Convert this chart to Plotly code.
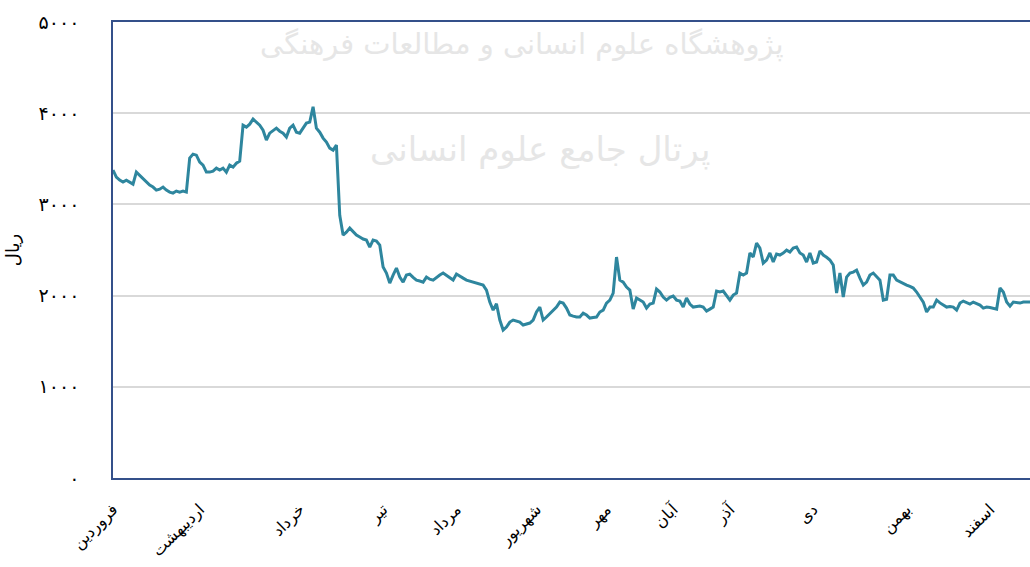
import plotly.graph_objects as go

# trading-day index and price (rial)
days = list(range(0, 276))
values = [
    3376, 3300, 3266, 3245, 3266, 3245, 3222, 3354, 3320, 3288,
    3245, 3211, 3190, 3157, 3167, 3190, 3157, 3135, 3124, 3146,
    3135, 3146, 3135, 3507, 3551, 3540, 3463, 3430, 3354, 3354,
    3365, 3398, 3376, 3398, 3354, 3430, 3409, 3452, 3475, 3869,
    3847, 3880, 3935, 3902, 3869, 3814, 3705, 3781, 3814, 3836,
    3803, 3781, 3738, 3836, 3869, 3792, 3781, 3836, 3891, 3902,
    4070, 3836, 3792, 3727, 3683, 3617, 3595, 3650, 2880, 2664,
    2696, 2740, 2696, 2664, 2642, 2620, 2609, 2532, 2609, 2598,
    2554, 2313, 2247, 2137, 2225, 2302, 2203, 2148, 2225, 2236,
    2200, 2170, 2160, 2148, 2203, 2180, 2170, 2203, 2225, 2247,
    2220, 2203, 2170, 2236, 2210, 2192, 2170, 2160, 2148, 2137,
    2125, 2115, 2061, 1929, 1841, 1910, 1732, 1622, 1655, 1710,
    1732, 1720, 1710, 1677, 1690, 1699, 1732, 1820, 1874, 1732,
    1765, 1800, 1841, 1874, 1929, 1918, 1863, 1787, 1775, 1765,
    1765, 1808, 1787, 1754, 1760, 1765, 1820, 1841, 1918, 1951,
    2028, 2423, 2170, 2148, 2093, 2061, 1852, 1973, 1951, 1929,
    1863, 1907, 1918, 2072, 2039, 1984, 1951, 1980, 1995, 1951,
    1940, 1874, 1973, 1907, 1874, 1880, 1885, 1874, 1830, 1852,
    1874, 2050, 2039, 2050, 2006, 1951, 2006, 2028, 2247, 2225,
    2247, 2467, 2423, 2576, 2521, 2357, 2390, 2467, 2368, 2456,
    2445, 2467, 2499, 2478, 2521, 2532, 2467, 2445, 2368, 2467,
    2357, 2368, 2489, 2445, 2420, 2390, 2335, 2028, 2247, 1984,
    2203, 2247, 2258, 2280, 2192, 2115, 2148, 2225, 2247, 2203,
    2170, 1951, 1960, 2225, 2225, 2170, 2150, 2137, 2115, 2100,
    2083, 2039, 1980, 1929, 1820, 1874, 1874, 1951, 1920, 1896,
    1874, 1880, 1874, 1841, 1918, 1940, 1920, 1907, 1929, 1910,
    1896, 1863, 1874, 1870, 1863, 1852, 2083, 2039, 1929, 1885,
    1929, 1920, 1918, 1929, 1925, 1929,
]

month_days = [0, 26, 56, 81, 103, 127, 148, 168, 185, 210, 238, 263]
month_names = ["فروردین", "اردیبهشت", "خرداد", "تیر", "مرداد", "شهریور",
               "مهر", "آبان", "آذر", "دی", "بهمن", "اسفند"]

y_ticks = [0, 1000, 2000, 3000, 4000, 5000]
y_labels = ["۰", "۱۰۰۰", "۲۰۰۰", "۳۰۰۰", "۴۰۰۰", "۵۰۰۰"]

watermark = ["پژوهشگاه علوم انسانی و مطالعات فرهنگی", "پرتال جامع علوم انسانی"]

fig = go.Figure()
fig.add_trace(go.Scatter(
    x=days, y=values, mode="lines",
    line=dict(color="#2E869E", width=3),
    hoverinfo="skip", showlegend=False,
))

axis_color = "#34508A"
font_fam = "DejaVu Sans"

fig.update_layout(
    width=1030, height=567,
    margin=dict(l=113, r=0, t=22, b=89),
    paper_bgcolor="white", plot_bgcolor="white",
    font=dict(family=font_fam, color="black"),
    xaxis=dict(
        range=[0, 275], tickmode="array", tickvals=month_days, ticktext=month_names,
        tickangle=-45, tickfont=dict(size=16, family=font_fam, color="black"),
        showgrid=False, zeroline=False, showline=True, linecolor=axis_color,
        linewidth=1.5, mirror=True, ticks="", ticklabelstandoff=14,
        automargin=False,
    ),
    yaxis=dict(
        range=[0, 5000], tickmode="array", tickvals=y_ticks, ticktext=y_labels,
        tickfont=dict(size=19, family=font_fam, color="black"),
        showgrid=True, gridcolor="#D9D9D9", gridwidth=1.5, zeroline=False,
        showline=True, linecolor=axis_color, linewidth=1.5, ticks="",
        ticklabelstandoff=28, automargin=False,
        title=dict(text="ریال", font=dict(size=18, family=font_fam, color="black"),
                   standoff=14),
    ),
)

fig.add_annotation(text=watermark[0], xref="paper", yref="paper", x=0.446, y=0.95,
                   yanchor="middle", showarrow=False,
                   font=dict(size=29, color="#E6E6E6", family=font_fam))
fig.add_annotation(text=watermark[1], xref="paper", yref="paper", x=0.466, y=0.72,
                   yanchor="middle", showarrow=False,
                   font=dict(size=34, color="#E6E6E6", family=font_fam))

fig.write_html(
    "out.html",
    config={"responsive": False, "displayModeBar": False},
    post_script="document.body.style.margin='0px';document.body.style.overflow='hidden';",
)
